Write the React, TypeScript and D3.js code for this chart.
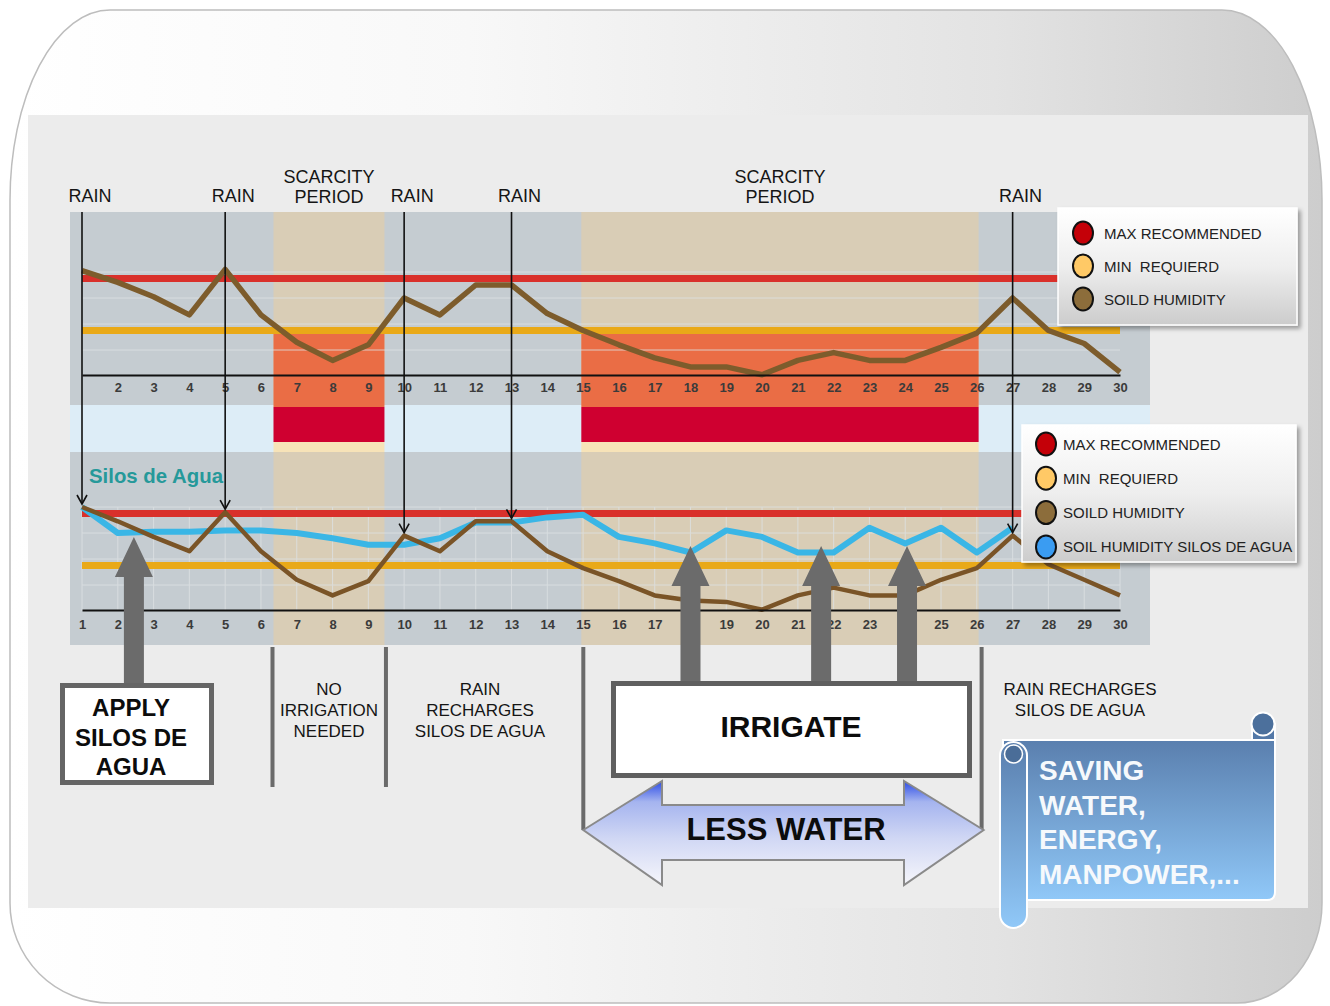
import { useEffect, useRef } from 'react';
import * as d3 from 'd3';

// days of the month (x categories)
const days = [1, 2, 3, 4, 5, 6, 7, 8, 9, 10, 11, 12, 13, 14, 15, 16, 17, 18, 19, 20, 21, 22, 23, 24, 25, 26, 27, 28, 29, 30];

// soil humidity, plain irrigation (upper chart)
const soilHumidity = [81, 72, 61, 47, 82, 47, 26, 12, 24, 60, 47, 70, 70, 48, 35, 24, 14, 7, 7, 1, 12, 18, 12, 12, 22, 33, 60, 35, 25, 3];
// soil humidity as drawn again in the Silos de Agua chart (lower)
const soilHumidityLower = [80, 69, 57, 46, 76, 46, 24, 12, 23, 58, 46, 69, 69, 46, 33, 23, 12, 8, 7, 1, 12, 18, 12, 12, 24, 33, 58, 36, 24, 12];
// soil humidity with Silos de Agua, days 1..27 (rest hidden under the legend)
const soilHumiditySilos = [80, 60, 61, 61, 62, 62, 60, 56, 51, 51, 56, 68, 68, 72, 74, 57, 52, 45, 62, 57, 45, 45, 64, 52, 64, 45, 64];

const maxRecommended = 75;
const minRequired = 35;
const gridLevels = [20, 40, 60, 80];

const rainDays = [1, 5, 10, 13, 27];
const scarcityPeriods: [number, number][] = [[6.35, 9.45], [14.95, 26.05]];
const irrigationDays = [18, 21.65, 24.05];
const irrigationLevel = 50;
const silosApplyDay = 2.45;
const silosApplyLevel = 57;

const legendTop = [
  { label: 'MAX RECOMMENDED', color: '#c40008' },
  { label: 'MIN  REQUIERD', color: '#ffc966' },
  { label: 'SOILD HUMIDITY', color: '#8c6d3b' },
];
const legendBottom = [
  { label: 'MAX RECOMMENDED', color: '#c40008' },
  { label: 'MIN  REQUIERD', color: '#ffc966' },
  { label: 'SOILD HUMIDITY', color: '#8c6d3b' },
  { label: 'SOIL HUMIDITY SILOS DE AGUA', color: '#3a9cf2' },
];

const savingLines = ['SAVING', 'WATER,', 'ENERGY,', 'MANPOWER,...'];

const FONT = "'Liberation Sans', Arial, sans-serif";

export default function App() {
  const svgRef = useRef<SVGSVGElement>(null);

  useEffect(() => {
    if (!svgRef.current) return;
    const svg = d3.select(svgRef.current);
    svg.selectAll('*').remove();

    const x = d3.scaleLinear().domain([1, 30]).range([82, 1120]);
    const yTop = d3.scaleLinear().domain([0, 100]).range([376, 246]);
    const yBot = d3.scaleLinear().domain([0, 100]).range([611, 481]);

    const defs = svg.append('defs');
    const grad = (id: string, x2: number, y2: number, stops: [number, string][]) => {
      const g = defs.append('linearGradient').attr('id', id)
        .attr('x1', 0).attr('y1', 0).attr('x2', x2).attr('y2', y2);
      stops.forEach(([o, c]) => g.append('stop').attr('offset', o).attr('stop-color', c));
    };
    grad('card', 1, 0, [[0, '#ffffff'], [0.35, '#f8f8f8'], [0.75, '#e3e3e3'], [1, '#cdcdcd']]);
    grad('legendFill', 0, 1, [[0, '#ffffff'], [0.5, '#eeeeee'], [1, '#cccccc']]);
    grad('lessWater', 0, 1, [[0, '#2c4ce6'], [0.2, '#a5b4ef'], [0.55, '#d0d7f4'], [1, '#f6f6fb']]);
    grad('scroll', 0, 1, [[0, '#5a7fae'], [1, '#90c8f8']]);
    const shadow = defs.append('filter').attr('id', 'shadow')
      .attr('x', '-10%').attr('y', '-10%').attr('width', '130%').attr('height', '140%');
    shadow.append('feDropShadow').attr('dx', 3).attr('dy', 3).attr('stdDeviation', 2)
      .attr('flood-color', '#000').attr('flood-opacity', 0.35);

    // card + panel
    svg.append('path')
      .attr('d', 'M110,10 H1222 A100,190 0 0 1 1322,200 V903 A85,100 0 0 1 1237,1003 H110 A100,100 0 0 1 10,903 V200 A100,190 0 0 1 110,10 Z')
      .attr('fill', 'url(#card)').attr('stroke', '#bdbdbd').attr('stroke-width', 1.5);
    svg.append('rect').attr('x', 28).attr('y', 115).attr('width', 1280).attr('height', 793).attr('fill', '#ececec');

    // chart backgrounds
    const bg = svg.append('g');
    bg.append('rect').attr('x', 70).attr('y', 212).attr('width', 1080).attr('height', 193).attr('fill', '#c5ccd1');
    bg.append('rect').attr('x', 70).attr('y', 405).attr('width', 1080).attr('height', 47).attr('fill', '#ddedf7');
    bg.append('rect').attr('x', 70).attr('y', 452).attr('width', 1080).attr('height', 193).attr('fill', '#c5ccd1');

    scarcityPeriods.forEach(([s, e]) => {
      const x0 = x(s);
      const w = x(e) - x(s);
      bg.append('rect').attr('x', x0).attr('y', 212).attr('width', w).attr('height', 193).attr('fill', '#d9cdb6');
      bg.append('rect').attr('x', x0).attr('y', 452).attr('width', w).attr('height', 193).attr('fill', '#d9cdb6');
      bg.append('rect').attr('x', x0).attr('y', yTop(minRequired)).attr('width', w)
        .attr('height', 407 - yTop(minRequired)).attr('fill', '#ea6d45');
      bg.append('rect').attr('x', x0).attr('y', 407).attr('width', w).attr('height', 35).attr('fill', '#cf0030');
      bg.append('rect').attr('x', x0).attr('y', 442).attr('width', w).attr('height', 10).attr('fill', '#f7e3b8');
    });

    // grids
    const grid = svg.append('g').attr('stroke', '#dde1e3').attr('stroke-width', 1).attr('opacity', 0.8);
    gridLevels.forEach((v) => {
      grid.append('line').attr('x1', x(1)).attr('x2', x(30)).attr('y1', yTop(v)).attr('y2', yTop(v));
      grid.append('line').attr('x1', x(1)).attr('x2', x(30)).attr('y1', yBot(v)).attr('y2', yBot(v));
    });
    days.forEach((d) => {
      grid.append('line').attr('x1', x(d)).attr('x2', x(d)).attr('y1', yBot(80)).attr('y2', yBot(0));
    });

    const thresholds = (y: d3.ScaleLinear<number, number>, g: d3.Selection<SVGGElement, unknown, null, undefined>) => {
      g.append('line').attr('x1', x(1)).attr('x2', x(30)).attr('y1', y(minRequired)).attr('y2', y(minRequired))
        .attr('stroke', '#e9a918').attr('stroke-width', 7);
      g.append('line').attr('x1', x(1)).attr('x2', x(30)).attr('y1', y(maxRecommended)).attr('y2', y(maxRecommended))
        .attr('stroke', '#d9302b').attr('stroke-width', 7);
    };

    // upper chart
    const up = svg.append('g');
    thresholds(yTop, up);
    const lineTop = d3.line<number>().x((_, i) => x(days[i])).y((d) => yTop(d));
    up.append('path').datum(soilHumidity).attr('d', lineTop).attr('fill', 'none')
      .attr('stroke', '#7d5c2c').attr('stroke-width', 5.5).attr('stroke-linejoin', 'round');

    const axisTop = svg.append('g').attr('transform', 'translate(0,375)')
      .call(d3.axisBottom(x).tickValues(days.slice(1)).tickSize(0).tickSizeOuter(0).tickFormat(d3.format('d')));
    axisTop.select('.domain').attr('stroke', '#111').attr('stroke-width', 2);
    axisTop.selectAll('text').attr('y', 17).attr('dy', 0).attr('fill', '#3b3b3b')
      .attr('font-size', 13).attr('font-weight', 'bold').attr('font-family', FONT);

    // lower chart
    const low = svg.append('g');
    thresholds(yBot, low);
    const lineBot = d3.line<number>().x((_, i) => x(days[i])).y((d) => yBot(d));
    low.append('path').datum(soilHumiditySilos).attr('d', lineBot).attr('fill', 'none')
      .attr('stroke', '#3ab6e6').attr('stroke-width', 6).attr('stroke-linejoin', 'round');
    low.append('path').datum(soilHumidityLower).attr('d', lineBot).attr('fill', 'none')
      .attr('stroke', '#7a5427').attr('stroke-width', 4.5).attr('stroke-linejoin', 'round');

    const axisBot = svg.append('g').attr('transform', 'translate(0,610)')
      .call(d3.axisBottom(x).tickValues(days).tickSize(0).tickSizeOuter(0).tickFormat(d3.format('d')));
    axisBot.select('.domain').attr('stroke', '#111').attr('stroke-width', 2);
    axisBot.selectAll('text').attr('y', 19).attr('dy', 0).attr('fill', '#3b3b3b')
      .attr('font-size', 13).attr('font-weight', 'bold').attr('font-family', FONT);

    svg.append('text').attr('x', 89).attr('y', 483).text('Silos de Agua')
      .attr('font-family', FONT).attr('font-weight', 'bold').attr('font-size', 21)
      .attr('textLength', 134).attr('lengthAdjust', 'spacingAndGlyphs').attr('fill', '#26999a');

    // rain lines
    const rain = svg.append('g').attr('stroke', '#111').attr('stroke-width', 1.6).attr('fill', 'none');
    rainDays.forEach((d) => {
      const xx = x(d);
      const tip = yBot(soilHumidityLower[d - 1]) - 3;
      rain.append('line').attr('x1', xx).attr('x2', xx).attr('y1', 212).attr('y2', tip);
      rain.append('path').attr('d', `M${xx - 5},${tip - 9} L${xx},${tip} L${xx + 5},${tip - 9}`);
    });

    // top labels
    const txt = (g: any, lines: string[], cx: number, y0: number, dy: number, size: number, weight = 'normal', anchor = 'middle', fill = '#151515') => {
      lines.forEach((l, i) => {
        g.append('text').attr('x', cx).attr('y', y0 + i * dy).text(l)
          .attr('font-family', FONT).attr('font-size', size).attr('font-weight', weight)
          .attr('text-anchor', anchor).attr('fill', fill).style('white-space', 'pre');
      });
    };
    rainDays.forEach((d) => txt(svg, ['RAIN'], x(d) + 8, 202, 0, 18));
    scarcityPeriods.forEach(([s, e]) => txt(svg, ['SCARCITY', 'PERIOD'], (x(s) + x(e)) / 2, 183, 19.5, 18));

    // legends
    const legend = (items: { label: string; color: string }[], bx: number, by: number, bw: number, bh: number, cx: number, cy0: number, step: number, lx: number) => {
      const g = svg.append('g');
      g.append('rect').attr('x', bx).attr('y', by).attr('width', bw).attr('height', bh)
        .attr('fill', 'url(#legendFill)').attr('stroke', '#ffffff').attr('stroke-width', 1.5)
        .attr('filter', 'url(#shadow)');
      items.forEach((it, i) => {
        const cy = cy0 + i * step;
        g.append('ellipse').attr('cx', cx).attr('cy', cy).attr('rx', 10).attr('ry', 11.5)
          .attr('fill', it.color).attr('stroke', '#111').attr('stroke-width', 2);
        g.append('text').attr('x', lx).attr('y', cy + 5.5).text(it.label)
          .attr('font-family', FONT).attr('font-size', 15).attr('fill', '#222').style('white-space', 'pre');
      });
    };
    legend(legendTop, 1058, 208, 239, 117, 1083, 233, 33, 1104);
    legend(legendBottom, 1022, 425, 274, 137, 1046, 444, 34.3, 1063);

    // grey up arrows
    const arrowGrey = '#6b6b6b';
    const upArrow = (cx: number, tip: number, bottom: number) => {
      const hw = 19, hh = 40, sw = 10;
      return `M${cx},${tip} L${cx + hw},${tip + hh} L${cx + sw},${tip + hh} L${cx + sw},${bottom} L${cx - sw},${bottom} L${cx - sw},${tip + hh} L${cx - hw},${tip + hh} Z`;
    };
    svg.append('path').attr('d', upArrow(x(silosApplyDay), yBot(silosApplyLevel), 686)).attr('fill', arrowGrey);
    irrigationDays.forEach((d) => {
      svg.append('path').attr('d', upArrow(x(d), yBot(irrigationLevel), 683)).attr('fill', arrowGrey);
    });

    // separators under the scarcity periods
    const sep = svg.append('g').attr('stroke', '#6a6a6a').attr('stroke-width', 4);
    sep.append('line').attr('x1', x(scarcityPeriods[0][0]) - 1).attr('x2', x(scarcityPeriods[0][0]) - 1).attr('y1', 647).attr('y2', 787);
    sep.append('line').attr('x1', x(scarcityPeriods[0][1]) + 1.5).attr('x2', x(scarcityPeriods[0][1]) + 1.5).attr('y1', 647).attr('y2', 787);
    const lwL = x(scarcityPeriods[1][0]) + 2;
    const lwR = x(scarcityPeriods[1][1]) + 5;
    sep.append('line').attr('x1', lwL).attr('x2', lwL).attr('y1', 647).attr('y2', 830);
    sep.append('line').attr('x1', lwR - 2).attr('x2', lwR - 2).attr('y1', 647).attr('y2', 830);

    // boxes
    svg.append('rect').attr('x', 62.5).attr('y', 685.5).attr('width', 149).attr('height', 97)
      .attr('fill', '#fff').attr('stroke', '#656565').attr('stroke-width', 5);
    txt(svg, ['APPLY', 'SILOS DE', 'AGUA'], 131, 716, 29.5, 24, 'bold', 'middle', '#0c0c0c');

    svg.append('rect').attr('x', 613.5).attr('y', 683.5).attr('width', 356).attr('height', 92)
      .attr('fill', '#fff').attr('stroke', '#5f5f5f').attr('stroke-width', 5);
    txt(svg, ['IRRIGATE'], 791, 737, 0, 30, 'bold', 'middle', '#0c0c0c');

    // less water double arrow
    const hb1 = 662, hb2 = 904;
    svg.append('path')
      .attr('d', `M${lwL},830 L${hb1},781 L${hb1},805 L${hb2},805 L${hb2},781 L${lwR},830 L${hb2},885 L${hb2},860 L${hb1},860 L${hb1},885 Z`)
      .attr('fill', 'url(#lessWater)').attr('stroke', '#8a8a8a').attr('stroke-width', 2).attr('stroke-linejoin', 'miter');
    txt(svg, ['LESS WATER'], 786, 840, 0, 31, 'bold', 'middle', '#0c0c0c');

    // annotations
    txt(svg, ['NO', 'IRRIGATION', 'NEEDED'], 329, 695, 21, 17);
    txt(svg, ['RAIN', 'RECHARGES', 'SILOS DE AGUA'], 480, 695, 21, 17);
    txt(svg, ['RAIN RECHARGES', 'SILOS DE AGUA'], 1080, 695, 21, 17);

    // scroll
    const sc = svg.append('g');
    sc.append('rect').attr('x', 1252).attr('y', 724).attr('width', 23).attr('height', 20)
      .attr('fill', '#5479a8').attr('stroke', '#fff').attr('stroke-width', 2);
    sc.append('circle').attr('cx', 1263).attr('cy', 724).attr('r', 11.5)
      .attr('fill', '#4c709c').attr('stroke', '#fff').attr('stroke-width', 2);
    sc.append('path').attr('d', 'M1003,740 H1275 V892 Q1275,900 1267,900 H1003 Z')
      .attr('fill', 'url(#scroll)').attr('stroke', '#fff').attr('stroke-width', 2);
    sc.append('rect').attr('x', 1000).attr('y', 742).attr('width', 27).attr('height', 186).attr('rx', 13.5)
      .attr('fill', 'url(#scroll)').attr('stroke', '#fff').attr('stroke-width', 2);
    sc.append('circle').attr('cx', 1013.5).attr('cy', 754).attr('r', 9)
      .attr('fill', '#4a6d98').attr('stroke', '#fff').attr('stroke-width', 1.5);
    txt(sc, savingLines, 1039, 780, 34.7, 28, 'bold', 'start', '#f6f9fc');
  }, []);

  return (
    <svg
      ref={svgRef}
      width={1330}
      height={1006}
      style={{ position: 'absolute', left: 0, top: 0, display: 'block' }}
    />
  );
}
